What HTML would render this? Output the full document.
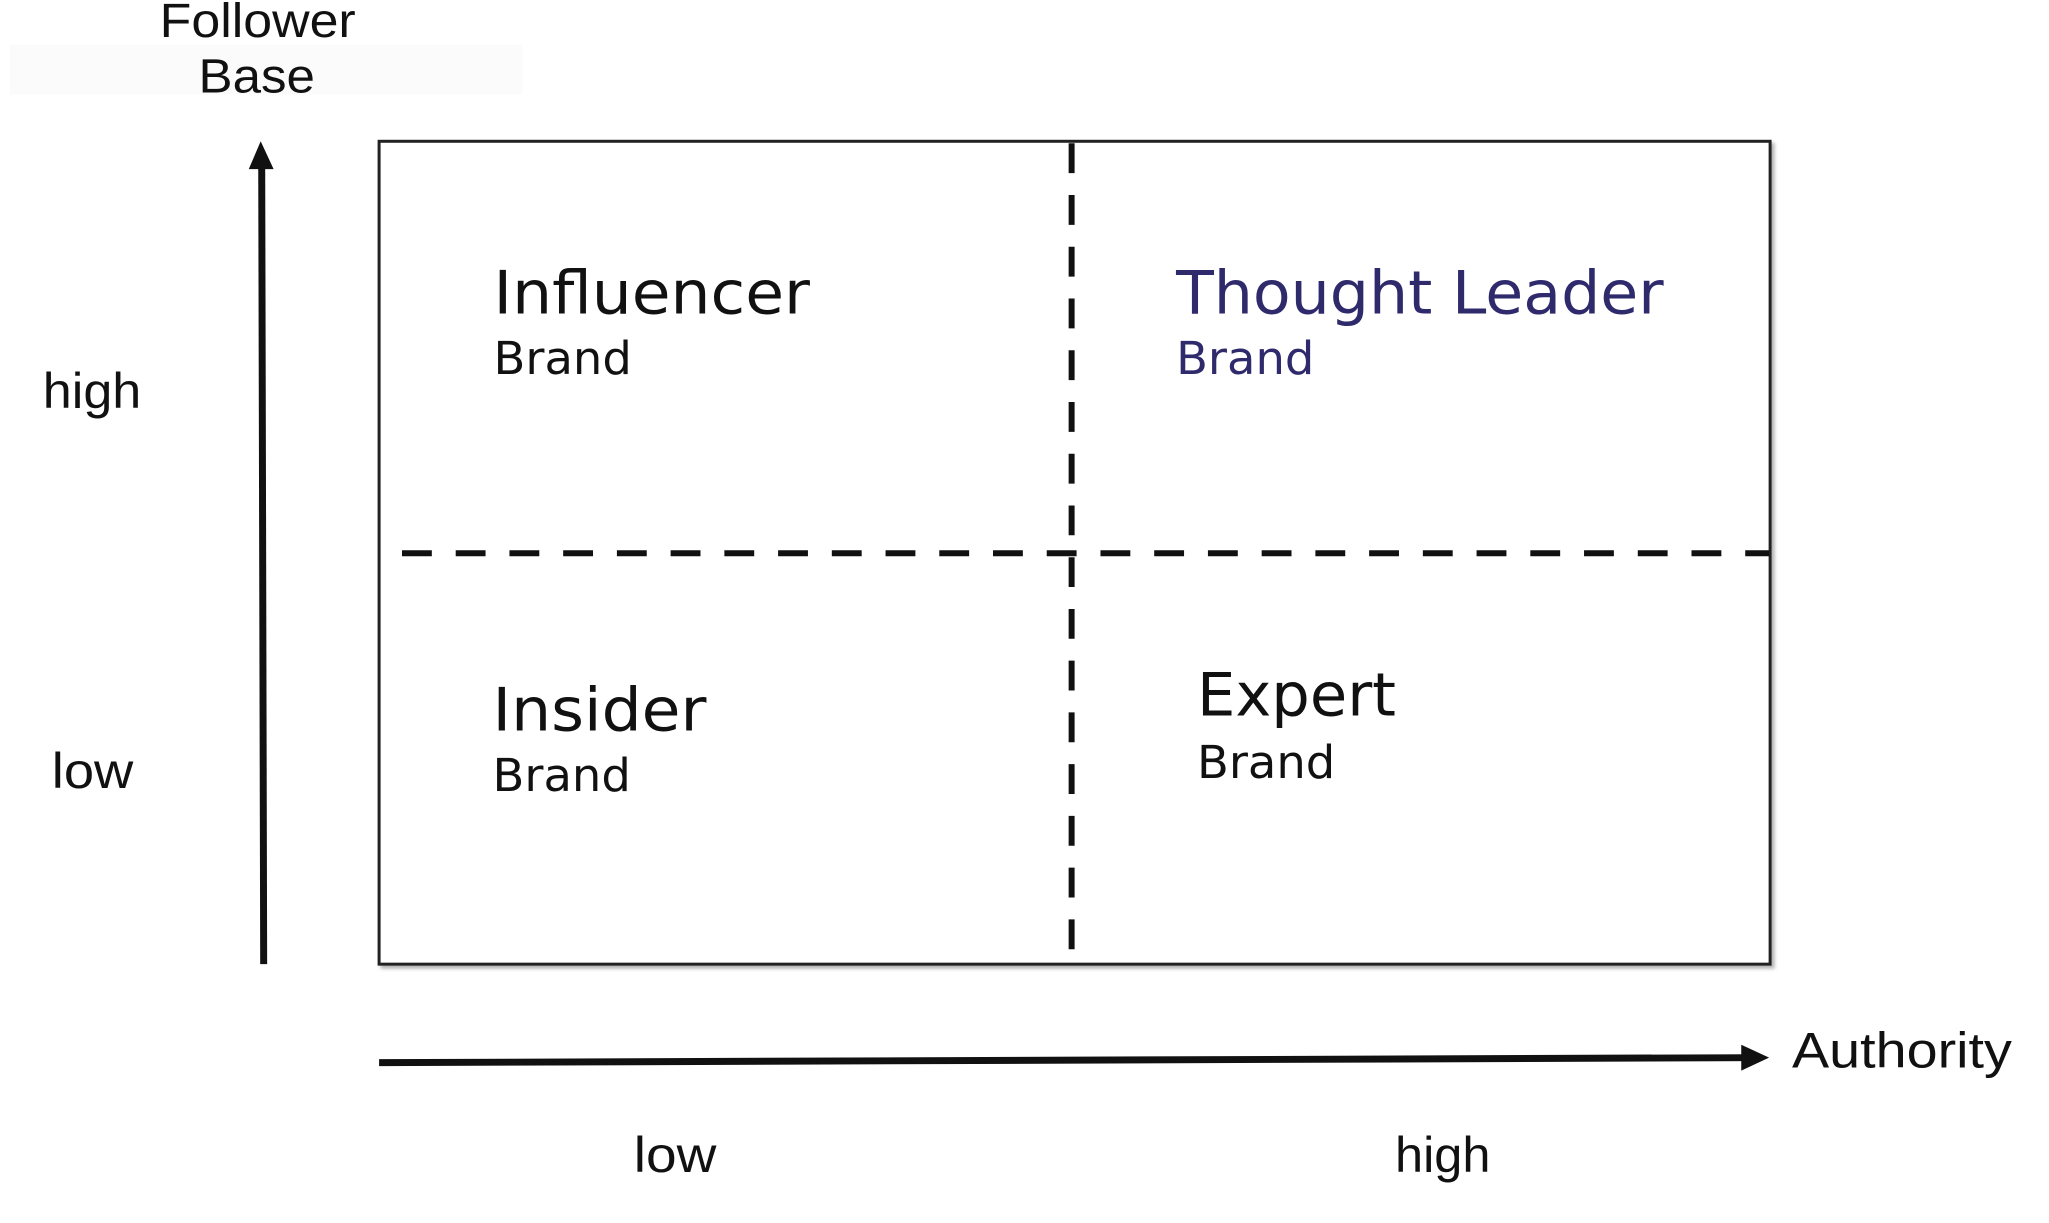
<!DOCTYPE html>
<html><head><meta charset="utf-8"><style>
html,body{margin:0;padding:0;background:#fff;}
svg{display:block;}
.ax{font-family:"Liberation Sans",Arial,sans-serif;fill:#111;}
.q{font-family:"DejaVu Sans",Verdana,sans-serif;fill:#111;}
</style></head><body>
<svg width="2049" height="1223" viewBox="0 0 2049 1223" xmlns="http://www.w3.org/2000/svg">
<defs><filter id="sh" x="-5%" y="-5%" width="110%" height="110%"><feDropShadow dx="3" dy="3" stdDeviation="2" flood-color="#000" flood-opacity="0.3"/></filter></defs>
<rect x="0" y="0" width="2049" height="1223" fill="#fff"/>
<g transform="scale(0.995)">
<rect x="10" y="45" width="515" height="50" fill="#fbfbfb"/>
<text class="ax" x="259" y="37" font-size="48" text-anchor="middle" textLength="197" lengthAdjust="spacingAndGlyphs">Follower</text>
<text class="ax" x="258" y="93" font-size="48" text-anchor="middle" textLength="117" lengthAdjust="spacingAndGlyphs">Base</text>
<rect x="381" y="142" width="1398" height="827" fill="#fff" stroke="#222" stroke-width="3" filter="url(#sh)"/>
<line x1="1077" y1="144" x2="1077" y2="968" stroke="#111" stroke-width="6" stroke-dasharray="30 22"/>
<line x1="404" y1="556" x2="1778" y2="556" stroke="#111" stroke-width="6" stroke-dasharray="30 24"/>
<line x1="263" y1="158" x2="265" y2="969" stroke="#111" stroke-width="7"/>
<polygon points="262,142 250,170 275,170" fill="#111"/>
<line x1="381" y1="1068" x2="1760" y2="1063" stroke="#111" stroke-width="7"/>
<polygon points="1778,1063 1750,1050 1750,1076" fill="#111"/>
<text class="ax" x="43" y="410" font-size="50" textLength="99" lengthAdjust="spacingAndGlyphs">high</text>
<text class="ax" x="52" y="792" font-size="50" textLength="82" lengthAdjust="spacingAndGlyphs">low</text>
<text class="ax" x="637" y="1178" font-size="50" textLength="83" lengthAdjust="spacingAndGlyphs">low</text>
<text class="ax" x="1402" y="1178" font-size="50" textLength="96" lengthAdjust="spacingAndGlyphs">high</text>
<text class="ax" x="1801" y="1073" font-size="50" textLength="221" lengthAdjust="spacingAndGlyphs">Authority</text>
<text class="q" x="496" y="315" font-size="60" textLength="318" lengthAdjust="spacingAndGlyphs">Influencer</text>
<text class="q" x="496" y="376" font-size="46" textLength="139" lengthAdjust="spacingAndGlyphs">Brand</text>
<text class="q" x="1182" y="315" font-size="60" style="fill:#2e2a6b" textLength="490" lengthAdjust="spacingAndGlyphs">Thought Leader</text>
<text class="q" x="1182" y="376" font-size="46" style="fill:#2e2a6b" textLength="139" lengthAdjust="spacingAndGlyphs">Brand</text>
<text class="q" x="495" y="734" font-size="60" textLength="215" lengthAdjust="spacingAndGlyphs">Insider</text>
<text class="q" x="495" y="795" font-size="46" textLength="139" lengthAdjust="spacingAndGlyphs">Brand</text>
<text class="q" x="1203" y="719" font-size="60" textLength="200" lengthAdjust="spacingAndGlyphs">Expert</text>
<text class="q" x="1203" y="782" font-size="46" textLength="139" lengthAdjust="spacingAndGlyphs">Brand</text>
</g>
</svg>
</body></html>
